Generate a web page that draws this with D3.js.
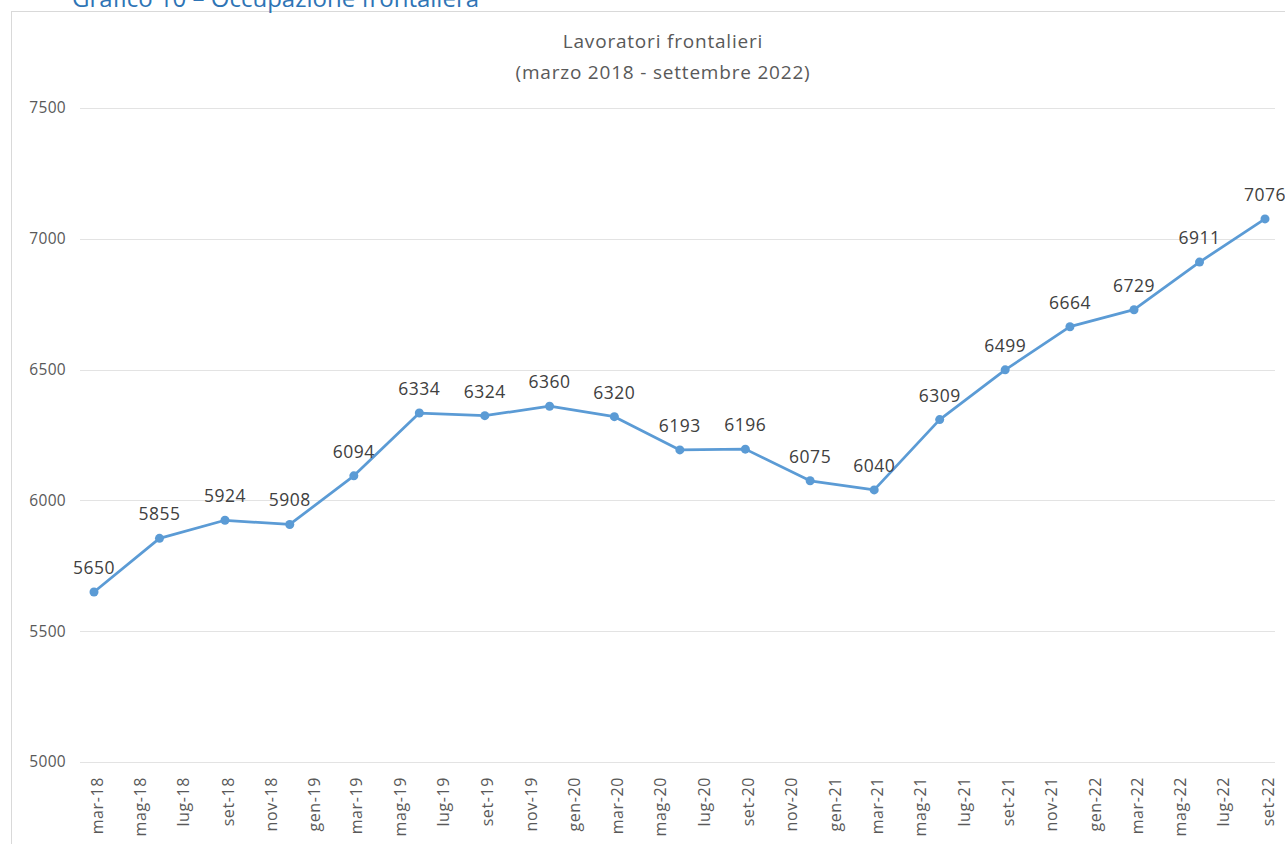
<!DOCTYPE html>
<html>
<head>
<meta charset="utf-8">
<script src="https://cdn.jsdelivr.net/npm/d3@7"></script>
<style>
  html, body { margin: 0; padding: 0; background: #ffffff; }
  svg { display: block; font-family: "Open Sans", "Noto Sans", sans-serif; }
</style>
</head>
<body>
<svg id="chart" width="1285" height="844"></svg>
<script>
// ---- data ----
const pageTitle = "Grafico 10 – Occupazione frontaliera";
const chartTitle = ["Lavoratori frontalieri", "(marzo 2018 - settembre 2022)"];
const months = ["2018-03","2018-06","2018-09","2018-12","2019-03","2019-06","2019-09","2019-12",
                "2020-03","2020-06","2020-09","2020-12","2021-03","2021-06","2021-09","2021-12",
                "2022-03","2022-06","2022-09"];
const values = [5650, 5855, 5924, 5908, 6094, 6334, 6324, 6360, 6320, 6193, 6196, 6075,
                6040, 6309, 6499, 6664, 6729, 6911, 7076];
const yTicks = [5000, 5500, 6000, 6500, 7000, 7500];
const xTickLabels = ["mar-18","mag-18","lug-18","set-18","nov-18","gen-19","mar-19","mag-19","lug-19",
                     "set-19","nov-19","gen-20","mar-20","mag-20","lug-20","set-20","nov-20","gen-21",
                     "mar-21","mag-21","lug-21","set-21","nov-21","gen-22","mar-22","mag-22","lug-22","set-22"];

const monthNames = {gen:0,feb:1,mar:2,apr:3,mag:4,giu:5,lug:6,ago:7,set:8,ott:9,nov:10,dic:11};
const parseMonth = d3.timeParse("%Y-%m");
const labelToDate = s => { const [m, y] = s.split("-"); return new Date(2000 + +y, monthNames[m], 1); };

const data = months.map((m, i) => ({ date: parseMonth(m), value: values[i] }));
const tickDates = xTickLabels.map(labelToDate);

const svg = d3.select("#chart");

// frame
svg.append("rect").attr("x", 11.5).attr("y", 11.5).attr("width", 1400).attr("height", 1000)
  .attr("fill", "none").attr("stroke", "#d9d9d9").attr("stroke-width", 1);

// page title (cut at top, as in the source page)
svg.append("text").attr("x", 72).attr("y", 7)
  .attr("fill", "#2e74b5").attr("font-size", 24).text(pageTitle);

// scales
const x = d3.scaleTime()
  .domain([parseMonth(months[0]), parseMonth(months[months.length - 1])])
  .range([94, 1265]);
const y = d3.scaleLinear().domain([5000, 7500]).range([762, 108]);

// gridlines
svg.append("g").selectAll("line").data(yTicks).join("line")
  .attr("x1", 80).attr("x2", 1275)
  .attr("y1", d => Math.round(y(d)) + 0.5).attr("y2", d => Math.round(y(d)) + 0.5)
  .attr("stroke", "#e3e3e3").attr("stroke-width", 1.2);

// y axis
const yAxis = svg.append("g").attr("transform", "translate(66,0)")
  .call(d3.axisLeft(y).tickValues(yTicks).tickSize(0).tickPadding(0).tickFormat(d3.format("d")));
yAxis.select(".domain").remove();
yAxis.selectAll("text").attr("fill", "#595959").attr("font-size", 15.5)
  .attr("letter-spacing", 0.3)
  .attr("font-family", "'Open Sans', sans-serif");

// x axis
const fmt = d => xTickLabels[tickDates.findIndex(t => +t === +d)];
const xAxis = svg.append("g").attr("transform", "translate(0,772)")
  .call(d3.axisBottom(x).tickValues(tickDates).tickSize(0).tickPadding(0).tickFormat(fmt));
xAxis.select(".domain").remove();
xAxis.selectAll("text")
  .attr("transform", "rotate(-90)")
  .attr("text-anchor", "end")
  .attr("x", -5).attr("y", 0).attr("dy", "0.35em").attr("dx", 0)
  .attr("fill", "#595959").attr("font-size", 16).attr("letter-spacing", 0.6)
  .attr("font-family", "'Open Sans', sans-serif");
xAxis.selectAll(".tick").attr("transform", d => `translate(${x(d) + 3},0)`);

// chart title
const tg = svg.append("text").attr("text-anchor", "middle").attr("fill", "#595959")
  .attr("font-size", 19).attr("letter-spacing", 0.8);
tg.selectAll("tspan").data(chartTitle).join("tspan")
  .attr("x", 663).attr("y", (d, i) => 48 + i * 31).text(d => d);

// line
svg.append("path").datum(data)
  .attr("fill", "none").attr("stroke", "#5b9bd5").attr("stroke-width", 2.75)
  .attr("stroke-linejoin", "round")
  .attr("d", d3.line().x(d => x(d.date)).y(d => y(d.value)));

// markers
svg.append("g").selectAll("circle").data(data).join("circle")
  .attr("cx", d => x(d.date)).attr("cy", d => y(d.value)).attr("r", 4.5)
  .attr("fill", "#5b9bd5");

// data labels
svg.append("g").selectAll("text").data(data).join("text")
  .attr("x", d => x(d.date)).attr("y", d => y(d.value) - 18)
  .attr("text-anchor", "middle").attr("fill", "#404040").attr("font-size", 17.5)
  .attr("letter-spacing", 0.5)
  .text(d => d.value);
</script>
</body>
</html>
